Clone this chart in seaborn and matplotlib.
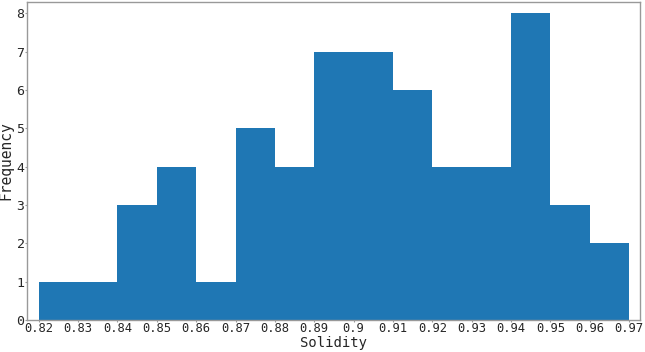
import matplotlib
matplotlib.use("Agg")
import matplotlib.pyplot as plt
import seaborn as sns
import numpy as np
import pandas as pd

bin_left = [0.82, 0.83, 0.84, 0.85, 0.86, 0.87, 0.88, 0.89, 0.90, 0.91, 0.92, 0.93, 0.94, 0.95, 0.96]
counts = [1, 1, 3, 4, 1, 5, 4, 7, 7, 6, 4, 4, 8, 3, 2]
tick_labels = ["0.82", "0.83", "0.84", "0.85", "0.86", "0.87", "0.88", "0.89", "0.9",
               "0.91", "0.92", "0.93", "0.94", "0.95", "0.96", "0.97"]

sns.set_style("white")
plt.rcParams['font.family'] = ['DejaVu Sans Mono', 'DejaVu Sans']

df = pd.DataFrame({"Solidity": [b + 0.005 for b in bin_left], "count": counts})
edges = [round(b, 2) for b in bin_left] + [0.97]

fig = plt.figure(figsize=(6.45, 3.52), dpi=100)
ax = fig.add_axes([27/645, 32/352, 613/645, 318/352])
sns.histplot(data=df, x="Solidity", weights="count", bins=edges, ax=ax,
             color="#1f77b4", alpha=1, linewidth=0, edgecolor="#1f77b4")
ax.set_xlim(0.817, 0.9728)
ax.set_ylim(0, 8.3)
ticks = [0.82 + 0.01 * i for i in range(16)]
ax.set_xticks(ticks)
ax.set_xticklabels(tick_labels, fontsize=9)
ax.set_yticks(range(9))
ax.set_yticklabels([str(i) for i in range(9)], fontsize=9.5)
ax.set_xlabel("Solidity", fontsize=10)
ax.set_ylabel("Frequency", fontsize=10.5)
ax.xaxis.set_label_coords(0.5, -0.049)
ax.yaxis.set_label_coords(-0.022, 0.5)
ax.tick_params(axis="both", length=1.5, width=0.8, color="#999999", pad=0.3, direction="out",
               bottom=True, left=True)
ax.tick_params(axis="x", labelsize=8.7, pad=0)
for s in ax.spines.values():
    s.set_color("#999999")
    s.set_linewidth(1)
fig.savefig("out.png", dpi=100)
